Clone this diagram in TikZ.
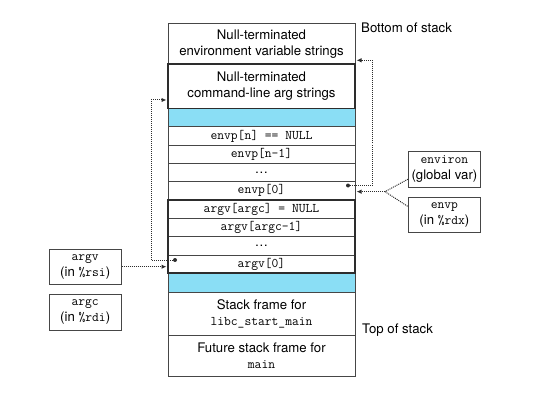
\documentclass[tikz,border=0pt]{standalone}
\usepackage{fontspec}
\setmainfont{TeX Gyre Heros}
\usetikzlibrary{arrows.meta,calc}
\definecolor{stackcyan}{RGB}{138,222,245}
\definecolor{edge}{RGB}{70,70,70}
\definecolor{darkedge}{RGB}{45,45,45}
\definecolor{conn}{RGB}{45,45,45}
\begin{document}
\begin{tikzpicture}[x=1pt,y=-1pt,
  txt/.style={font=\fontsize{13.2}{16}\selectfont},
  cell/.style={txt,draw=edge,line width=0.8pt,minimum width=187pt,inner sep=0pt,outer sep=0pt,align=center},
  cyancell/.style={cell,fill=stackcyan},
  thickbox/.style={draw=darkedge,line width=1.6pt},
  label/.style={txt,draw=edge,line width=0.9pt,minimum width=72pt,minimum height=35.5pt,inner sep=0pt,align=center},
  dotline/.style={conn,line width=1pt,dash pattern=on 1pt off 1pt},
  dotarrow/.style={dotline,-{Latex[length=5pt,width=4.5pt]},shorten >=1.5pt},
  dotmark/.style={fill=conn}
]
\useasboundingbox (0,0) rectangle (543,401);

% stack cells
\node[cell,minimum height=41pt] (env) at (261.5,43.8) {Null-terminated\\environment variable strings};
\node[cell,minimum height=44.2pt] (cmd) at (261.5,86.4) {Null-terminated\\command-line arg strings};
\node[cyancell,minimum height=18.3pt] (cyanA) at (261.5,117.65) {};
\node[cell,minimum height=18.3pt] (envpn) at (261.5,135.95) {\ttfamily envp[n] == NULL};
\node[cell,minimum height=18.3pt] (envpn1) at (261.5,154.25) {\ttfamily envp[n-1]};
\node[cell,minimum height=18.3pt] (envdots) at (261.5,172.55) {\ldots};
\node[cell,minimum height=18.3pt] (envp0) at (261.5,190.85) {\ttfamily envp[0]};
\node[cell,minimum height=18.3pt] (argvN) at (261.5,209.15) {\ttfamily argv[argc] = NULL};
\node[cell,minimum height=18.3pt] (argvN1) at (261.5,227.45) {\ttfamily argv[argc-1]};
\node[cell,minimum height=18.3pt] (argvdots) at (261.5,245.75) {\ldots};
\node[cell,minimum height=18.3pt] (argv0) at (261.5,264.05) {\ttfamily argv[0]};
\node[cyancell,minimum height=19.1pt] (cyanB) at (261.5,282.75) {};
\node[cell,minimum height=42.7pt] (frame) at (261.5,313.65) {Stack frame for\\\ttfamily libc\_start\_main};
\node[cell,minimum height=41.7pt] (future) at (261.5,355.85) {Future stack frame for\\\ttfamily main};

% thick group outlines
\draw[thickbox] (cmd.north west) rectangle (cmd.south east);
\draw[thickbox] (argvN.north west) rectangle (argv0.south east);

% side texts
\node[txt,anchor=west,inner sep=0pt] (bottom) at (361,28) {Bottom of stack};
\node[txt,anchor=west,inner sep=0pt] (top) at (362,330) {Top of stack};

% register / variable boxes
\node[label] (environ) at (444.4,169.2) {\ttfamily environ\\(global var)};
\node[label] (envpbox) at (444.4,215) {\ttfamily envp\\(in {\ttfamily\%rdx})};
\node[label] (argvbox) at (85.2,266.7) {\ttfamily argv\\(in {\ttfamily\%rsi})};
\node[label] (argcbox) at (85.2,312.2) {\ttfamily argc\\(in {\ttfamily\%rdi})};

% connector coordinates
\coordinate (envdot) at (348,185.5);
\coordinate (envtarget) at ($(env.south east)+(0,-4)$);
\coordinate (jn) at ($(envp0.east)+(30,0.8)$);
\coordinate (jtip) at ($(envp0.east)+(0,0.8)$);
\coordinate (environin) at ($(environ.west)+(0,10)$);
\coordinate (envpin) at ($(envpbox.west)+(0,-8.5)$);
\coordinate (argvdot) at (175,260);
\coordinate (cmdtarget) at ($(cmd.south west)+(0,-8.5)$);

% connectors
\fill[dotmark] (envdot) circle (2pt);
\draw[dotarrow] (envdot) -- ++(24,0) |- (envtarget);
\draw[dotline] (environin) -- (jn) -- (envpin);
\draw[dotarrow] (jn) -- (jtip);
\fill[dotmark] (argvdot) circle (2pt);
\draw[dotarrow] (argvdot) -- ++(-24,0) |- (cmdtarget);
\draw[dotarrow] (argvbox.east) -- (argvbox.east -| argv0.west);
\end{tikzpicture}
\end{document}
